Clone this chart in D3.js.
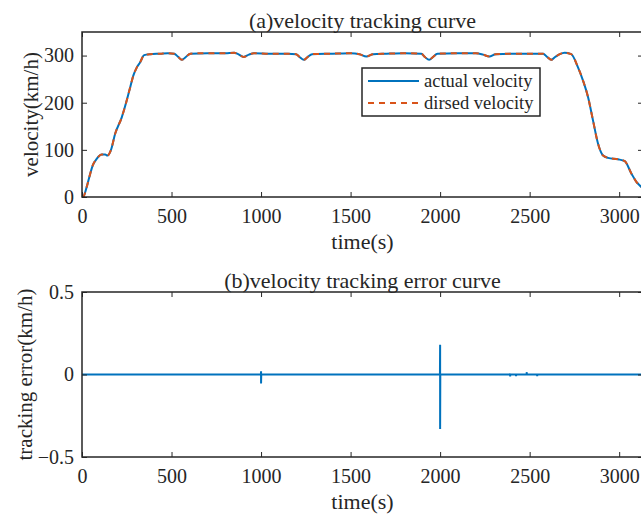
<!DOCTYPE html>
<html>
<head>
<meta charset="UTF-8">
<script src="https://cdn.jsdelivr.net/npm/d3@7"></script>
<style>
  html, body { margin: 0; padding: 0; background: #fff; }
  svg text { font-family: "Liberation Serif", "Times New Roman", serif; fill: #262626; }
</style>
</head>
<body>
<svg id="chart" width="641" height="517"></svg>
<script>
// velocity profile (s, km/h)
const velTime = [0, 7, 26, 45, 60, 82, 110, 130, 142, 161, 185, 222, 250, 270, 287, 305, 325, 347, 381, 437,
  480, 515, 535, 558, 580, 605, 700, 800, 850, 872, 903, 932, 960, 1050, 1150, 1195, 1215, 1239, 1260, 1285,
  1400, 1500, 1550, 1588, 1625, 1700, 1800, 1895, 1915, 1939, 1960, 1985, 2100, 2200, 2240, 2275, 2310,
  2400, 2500, 2575, 2598, 2620, 2642, 2668, 2695, 2732, 2770, 2798, 2826, 2854, 2882, 2910, 2938, 2994,
  3031, 3068, 3096, 3124, 3135];
const actualVel = [0, 0.5, 21, 48, 67, 81, 90, 90, 88, 99, 134, 169, 205, 234, 258, 274, 286, 301, 303, 304,
  305, 304, 298, 291, 297, 304, 305, 305, 306, 303, 297, 302, 305, 304, 304, 303, 297, 291, 297, 303,
  304, 305, 303, 298, 303, 304, 305, 304, 297, 291, 297, 304, 305, 305, 302, 298, 303,
  304, 304, 304, 297, 291, 297, 303, 306, 303, 275, 247, 212, 162, 113, 88, 83, 80,
  76, 50, 32, 21, 16];
const desiredVel = actualVel.slice();

// tracking error (s, km/h)
const errTime  = [0, 999, 1000, 1000, 1001, 1999, 2000, 2000, 2001, 2390, 2391, 2391, 2392, 2423, 2424, 2424, 2425,
  2483, 2484, 2484, 2485, 2541, 2542, 2542, 2543, 3135];
const errValue = [0, 0, 0.02, -0.055, 0, 0, 0.18, -0.33, 0, 0, 0.006, -0.012, 0, 0, 0.004, -0.01, 0,
  0, 0.014, -0.004, 0, 0, 0.003, -0.01, 0, 0];

const xTicks = [0, 500, 1000, 1500, 2000, 2500, 3000];
const velTicks = [0, 100, 200, 300];
const errTicks = [-0.5, 0, 0.5];

const BLUE = '#0072BD', ORANGE = '#D95319', AX = '#262626';

const svg = d3.select('#chart');
svg.append('rect').attr('width', 641).attr('height', 517).attr('fill', '#fff');

const left = 82, right = 643;
const x = d3.scaleLinear().domain([0, 3133]).range([left, right]);

function drawAxes(y, yTicks, fmt, top, bottom, title, titleY, ylabel, ylabelX) {
  const g = svg.append('g');
  // bottom axis
  g.append('g').attr('transform', `translate(0,${bottom})`)
    .call(d3.axisBottom(x).tickValues(xTicks).tickFormat(d3.format('d'))
      .tickSizeInner(-5).tickSizeOuter(0).tickPadding(12))
    .call(a => a.select('.domain').remove())
    .call(a => a.selectAll('text').style('font-size', '20px').attr('fill', AX))
    .call(a => a.selectAll('line').attr('stroke', AX));
  // top axis (ticks only)
  g.append('g').attr('transform', `translate(0,${top})`)
    .call(d3.axisTop(x).tickValues(xTicks).tickSizeInner(-5).tickSizeOuter(0).tickFormat(''))
    .call(a => a.select('.domain').remove())
    .call(a => a.selectAll('line').attr('stroke', AX));
  // left axis
  g.append('g').attr('transform', `translate(${left},0)`)
    .call(d3.axisLeft(y).tickValues(yTicks).tickFormat(fmt).tickSizeInner(-5).tickSizeOuter(0).tickPadding(8))
    .call(a => a.select('.domain').remove())
    .call(a => a.selectAll('text').style('font-size', '20px').attr('fill', AX))
    .call(a => a.selectAll('line').attr('stroke', AX));
  // right axis (ticks only)
  g.append('g').attr('transform', `translate(${right},0)`)
    .call(d3.axisRight(y).tickValues(yTicks).tickSizeInner(-5).tickSizeOuter(0).tickFormat(''))
    .call(a => a.select('.domain').remove())
    .call(a => a.selectAll('line').attr('stroke', AX));
  // box
  g.append('rect').attr('x', left).attr('y', top)
    .attr('width', right - left).attr('height', bottom - top)
    .attr('fill', 'none').attr('stroke', AX).attr('stroke-width', 1.5);

  svg.append('text').attr('x', (left + right) / 2).attr('y', titleY)
    .attr('text-anchor', 'middle').style('font-size', '22px').text(title);
  svg.append('text').attr('x', (left + right) / 2).attr('y', bottom + 52)
    .attr('text-anchor', 'middle').style('font-size', '22px').text('time(s)');
  svg.append('text')
    .attr('transform', `translate(${ylabelX},${(top + bottom) / 2}) rotate(-90)`)
    .attr('text-anchor', 'middle').style('font-size', '21px').text(ylabel);
}

// (a) velocity
const yV = d3.scaleLinear().domain([0, 350]).range([197, 32]);
const lineV = d3.line().x((d, i) => x(velTime[i])).y(d => yV(d)).curve(d3.curveMonotoneX);

svg.append('path').datum(actualVel).attr('d', lineV)
  .attr('fill', 'none').attr('stroke', BLUE).attr('stroke-width', 2);
svg.append('path').datum(desiredVel).attr('d', lineV)
  .attr('fill', 'none').attr('stroke', ORANGE).attr('stroke-width', 2).attr('stroke-dasharray', '6,5');

drawAxes(yV, velTicks, d3.format('d'), 32, 197, '(a)velocity tracking curve', 28, 'velocity(km/h)', 38);

// legend
const lg = svg.append('g');
lg.append('rect').attr('x', 362).attr('y', 68).attr('width', 178).attr('height', 48)
  .attr('fill', '#fff').attr('stroke', AX).attr('stroke-width', 1.5);
[['actual velocity', BLUE, null], ['dirsed velocity', ORANGE, '6,5']].forEach((it, i) => {
  const yy = 81 + i * 22;
  lg.append('line').attr('x1', 368).attr('x2', 419).attr('y1', yy).attr('y2', yy)
    .attr('stroke', it[1]).attr('stroke-width', 2).attr('stroke-dasharray', it[2]);
  lg.append('text').attr('x', 424).attr('y', yy + 6).style('font-size', '18.5px').text(it[0]);
});

// (b) tracking error
const yE = d3.scaleLinear().domain([-0.5, 0.5]).range([457, 292]);
const lineE = d3.line().x((d, i) => x(errTime[i])).y(d => yE(d));
svg.append('path').datum(errValue).attr('d', lineE)
  .attr('fill', 'none').attr('stroke', BLUE).attr('stroke-width', 2);

drawAxes(yE, errTicks, d => d === 0 ? '0' : d3.format('.1f')(d), 292, 457,
  '(b)velocity tracking error curve', 288, 'tracking error(km/h)', 32);
</script>
</body>
</html>
